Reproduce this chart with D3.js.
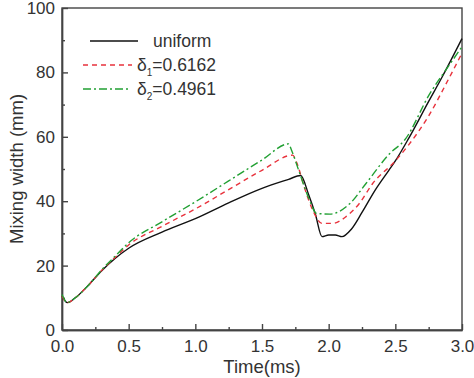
<!DOCTYPE html>
<html lang="en">
<head>
<meta charset="UTF-8">
<title>Mixing width</title>
<script src="https://d3js.org/d3.v7.min.js"></script>
<style>
  body { margin: 0; background: #fff; }
  svg text { font-family: "Liberation Sans", Arial, sans-serif; fill: #333; }
  .axis path, .axis line { stroke: #444; stroke-width: 1.4; }
  .axis text { font-size: 17px; }
</style>
</head>
<body>
<svg id="chart" width="474" height="378"></svg>
<script>
// data
const tUniform = [0, 0.04, 0.1, 0.2, 0.3, 0.4, 0.5, 0.75, 1.0, 1.25, 1.5, 1.7, 1.79, 1.85, 1.9, 1.95, 2.0, 2.05, 2.1, 2.17, 2.25, 2.35, 2.45, 2.5, 2.6, 2.75, 2.85, 3.0];
const vUniform = [10.5, 8.5, 10, 14, 18.5, 22.3, 25.4, 30.4, 34.6, 39.5, 44, 46.8, 48, 42, 36, 29, 29.5, 29.5, 29, 31.3, 36.5, 43.5, 49.5, 52.5, 59.5, 71, 78.5, 90.5];

const tDelta1 = [0, 0.04, 0.1, 0.2, 0.3, 0.4, 0.5, 0.75, 1.0, 1.25, 1.5, 1.73, 1.76, 1.82, 1.88, 1.95, 2.03, 2.13, 2.23, 2.33, 2.5, 2.6, 2.75, 2.9, 3.0];
const vDelta1 = [10.5, 8.5, 10, 14, 18.6, 22.6, 26.4, 32.2, 37.6, 43.6, 49.6, 54.3, 52, 44, 37.3, 33.1, 33.1, 35.2, 39.3, 45.5, 52.5, 57.5, 66.5, 78, 86];

const tDelta2 = [0, 0.04, 0.1, 0.2, 0.3, 0.4, 0.5, 0.75, 1.0, 1.25, 1.5, 1.7, 1.72, 1.78, 1.85, 1.91, 2.01, 2.16, 2.28, 2.46, 2.57, 2.76, 2.9, 3.0];
const vDelta2 = [11, 8.5, 10, 14, 18.8, 23, 27.1, 33.6, 39.8, 46.3, 52.8, 57.8, 56, 49, 41, 36.2, 36, 39.3, 45.5, 54.9, 59, 73.5, 82, 88];

const xTicks = [0, 0.5, 1.0, 1.5, 2.0, 2.5, 3.0];
const xMinor = [0.25, 0.75, 1.25, 1.75, 2.25, 2.75];
const yTicks = [0, 20, 40, 60, 80, 100];
const yMinor = [10, 30, 50, 70, 90];

const series = [
  { name: "uniform", t: tUniform, v: vUniform, color: "#111", dash: null },
  { name: "d1", sub: "1", value: "=0.6162", t: tDelta1, v: vDelta1, color: "#e8323c", dash: "5,4" },
  { name: "d2", sub: "2", value: "=0.4961", t: tDelta2, v: vDelta2, color: "#22a033", dash: "8,3,2,3" }
];

const margin = { top: 8, right: 12, bottom: 48, left: 62 };
const width = 474 - margin.left - margin.right;   // 400
const height = 378 - margin.top - margin.bottom;  // 322

const svg = d3.select("#chart");
const g = svg.append("g").attr("transform", `translate(${margin.left},${margin.top})`);

const x = d3.scaleLinear().domain([0, 3]).range([0, width]);
const y = d3.scaleLinear().domain([0, 100]).range([height, 0]);

// frame
g.append("rect")
  .attr("width", width).attr("height", height)
  .attr("fill", "none").attr("stroke", "#444").attr("stroke-width", 1.4);

// axes, ticks pointing inward
g.append("g").attr("class", "axis")
  .attr("transform", `translate(0,${height})`)
  .call(d3.axisBottom(x).tickValues(xTicks).tickSize(-6).tickSizeOuter(0).tickPadding(10)
    .tickFormat(d3.format(".1f")));
g.append("g").attr("class", "axis")
  .attr("transform", `translate(0,${height})`)
  .call(d3.axisBottom(x).tickValues(xMinor).tickSize(-3).tickSizeOuter(0).tickFormat(""));

g.append("g").attr("class", "axis")
  .call(d3.axisLeft(y).tickValues(yTicks).tickSize(-6).tickSizeOuter(0).tickPadding(7));
g.append("g").attr("class", "axis")
  .call(d3.axisLeft(y).tickValues(yMinor).tickSize(-3).tickSizeOuter(0).tickFormat(""));

// curves
const line = d3.line().curve(d3.curveMonotoneX).x(d => x(d[0])).y(d => y(d[1]));
series.forEach(s => {
  g.append("path")
    .datum(d3.zip(s.t, s.v))
    .attr("fill", "none")
    .attr("stroke", s.color)
    .attr("stroke-width", 1.4)
    .attr("stroke-dasharray", s.dash)
    .attr("d", line);
});

// axis titles
svg.append("text")
  .attr("transform", `translate(23,${margin.top + height / 2}) rotate(-90)`)
  .attr("text-anchor", "middle")
  .attr("font-size", "18.5px")
  .text("Mixing width (mm)");

svg.append("text")
  .attr("x", margin.left + width / 2)
  .attr("y", 373)
  .attr("text-anchor", "middle")
  .attr("font-size", "18.5px")
  .text("Time(ms)");

// legend
const legendRows = [
  { s: series[0], x1: 90, x2: 138, y: 41, tx: 153 },
  { s: series[1], x1: 83, x2: 132, y: 65, tx: 137 },
  { s: series[2], x1: 83, x2: 128, y: 89, tx: 137 }
];
legendRows.forEach(r => {
  svg.append("line")
    .attr("x1", r.x1).attr("x2", r.x2).attr("y1", r.y).attr("y2", r.y)
    .attr("stroke", r.s.color).attr("stroke-width", 1.4)
    .attr("stroke-dasharray", r.s.dash);
  const t = svg.append("text")
    .attr("x", r.tx).attr("y", r.y + 6)
    .attr("font-size", "17.5px");
  if (r.s.sub) {
    t.append("tspan").text("δ");
    t.append("tspan").attr("font-size", "10px").attr("dy", 5).text(r.s.sub);
    t.append("tspan").attr("dy", -5).text(r.s.value);
  } else {
    t.text(r.s.name);
  }
});
</script>
</body>
</html>
